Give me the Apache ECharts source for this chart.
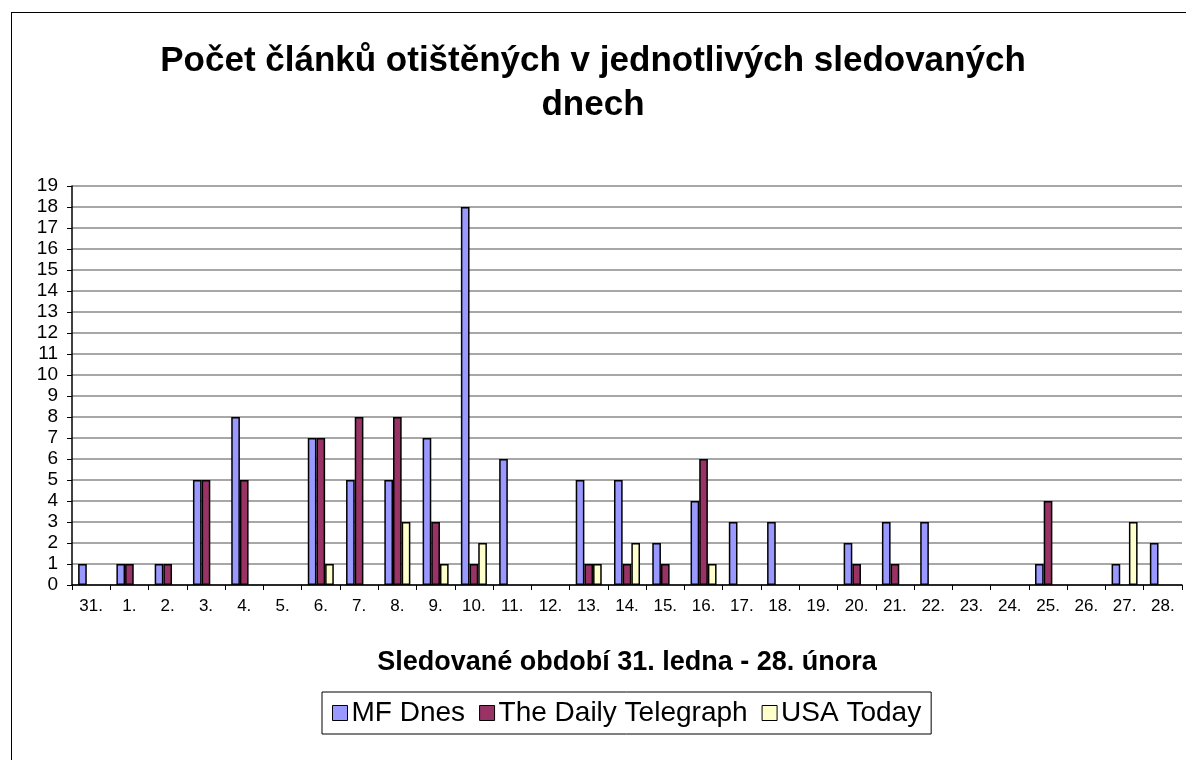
<!DOCTYPE html>
<html>
<head>
<meta charset="utf-8">
<script src="https://cdn.jsdelivr.net/npm/echarts@6/dist/echarts.min.js"></script>
<style>
html, body { margin: 0; padding: 0; background: #fff; overflow: hidden; }
/* ramecek grafu */
#frame { position: absolute; left: 11px; top: 12px; width: 1400px; height: 900px; border: 1px solid #000; }
#chart { position: absolute; left: 0; top: 0; width: 1186px; height: 760px; }
</style>
</head>
<body>
<div id="frame"></div>
<div id="chart"></div>
<script>
// dny sledovaneho obdobi
let days = ["31.", "1.", "2.", "3.", "4.", "5.", "6.", "7.", "8.", "9.", "10.", "11.", "12.", "13.", "14.",
    "15.", "16.", "17.", "18.", "19.", "20.", "21.", "22.", "23.", "24.", "25.", "26.", "27.", "28."];
// pocty clanku
let mfDnes = [1, 1, 1, 5, 8, 0, 7, 5, 5, 7, 18, 6, 0, 5, 5, 2, 4, 3, 3, 0, 2, 3, 3, 0, 0, 1, 0, 1, 2];
let telegraph = [0, 1, 1, 5, 5, 0, 7, 8, 8, 3, 1, 0, 0, 1, 1, 1, 6, 0, 0, 0, 1, 1, 0, 0, 0, 4, 0, 0, 0];
let usaToday = [0, 0, 0, 0, 0, 0, 1, 0, 3, 1, 2, 0, 0, 1, 2, 0, 1, 0, 0, 0, 0, 0, 0, 0, 0, 0, 0, 3, 0];

let font = "'Liberation Sans', Arial, sans-serif";
let myChart = echarts.init(document.getElementById("chart"));

function barSeries(name, color, data) {
    return {
        name: name,
        type: "bar",
        // nulove sloupce se nekresli (bez obrysu)
        data: data.map(v => v === 0 ? { value: 0, itemStyle: { borderWidth: 0 } } : v),
        barGap: "0%",
        barCategoryGap: "32%",
        itemStyle: { color: color, borderColor: "#000", borderWidth: 1.5 }
    };
}

let option = {
    animation: false,
    backgroundColor: "transparent",
    textStyle: { fontFamily: font },
    title: {
        text: "Počet článků otištěných v jednotlivých sledovaných\ndnech",
        left: "center",
        top: 34,
        textStyle: { fontSize: 35, fontWeight: "bold", color: "#000", lineHeight: 44, fontFamily: font }
    },
    legend: {
        bottom: 26,
        left: 322,
        itemWidth: 15,
        itemHeight: 15,
        itemGap: 14,
        borderColor: "#000",
        borderWidth: 1,
        borderRadius: 0,
        padding: [7, 10, 7, 10],
        icon: "rect",
        textStyle: { fontSize: 28, color: "#000", fontFamily: font, padding: [0, 0, 0, -1] },
        itemStyle: { borderColor: "#000", borderWidth: 1 }
    },
    grid: { left: 72, right: 4, top: 186, bottom: 175, containLabel: false },
    xAxis: {
        type: "category",
        data: days,
        name: "Sledované období 31. ledna - 28. února",
        nameLocation: "middle",
        nameGap: 64,
        nameTextStyle: { fontSize: 27, fontWeight: "bold", color: "#000", fontFamily: font },
        axisLine: { lineStyle: { color: "#000", width: 1.5 } },
        axisTick: { show: true, length: 5, lineStyle: { color: "#000" } },
        axisLabel: { color: "#000", fontSize: 17, margin: 13, interval: 0, fontFamily: font }
    },
    yAxis: {
        type: "value",
        min: 0,
        max: 19,
        interval: 1,
        axisLine: { show: true, lineStyle: { color: "#000", width: 1.5 } },
        axisTick: { show: true, length: 5, lineStyle: { color: "#000" } },
        axisLabel: { color: "#000", fontSize: 19, margin: 14, fontFamily: font },
        splitLine: { lineStyle: { color: "#8a8a8a", width: 1.5 } }
    },
    series: [
        barSeries("MF Dnes", "#9999FF", mfDnes),
        barSeries("The Daily Telegraph", "#993366", telegraph),
        barSeries("USA Today", "#FFFFCC", usaToday)
    ]
};
myChart.setOption(option, true);
</script>
</body>
</html>
